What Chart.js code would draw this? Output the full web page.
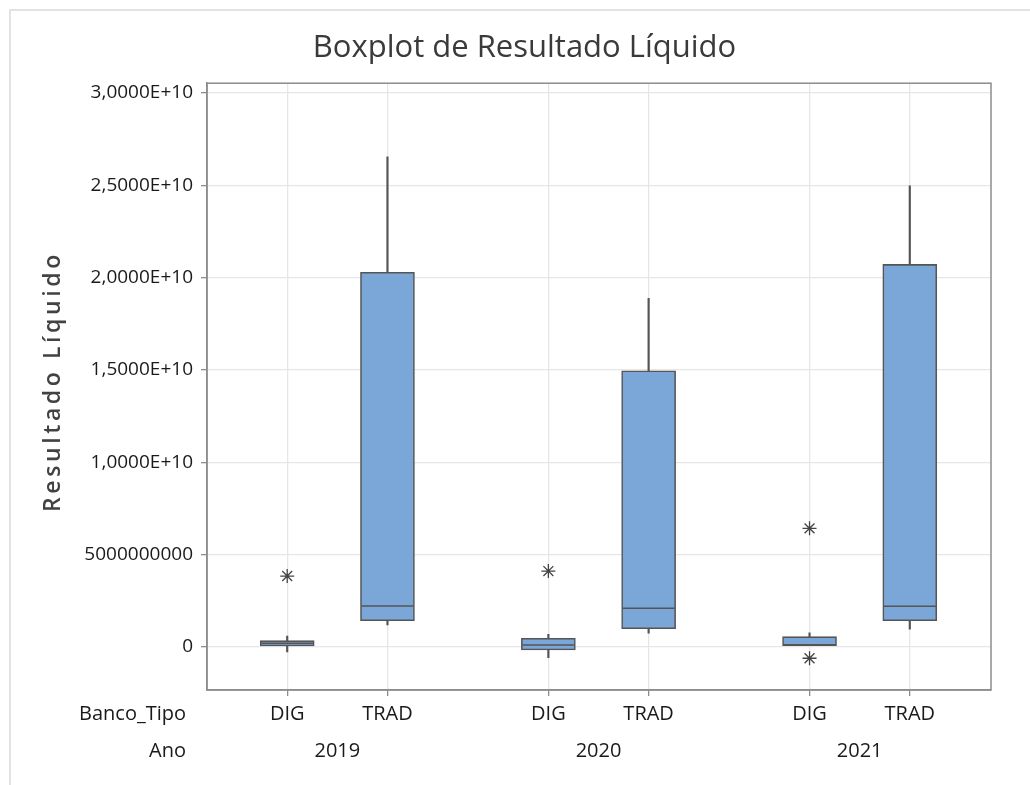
<!DOCTYPE html>
<html>
<head>
<meta charset="utf-8">
<script src="https://cdn.jsdelivr.net/npm/chart.js@4.4.1/dist/chart.umd.min.js"></script>
<style>
  html, body { margin: 0; padding: 0; background: #fff; }
  #wrap { position: relative; width: 1030px; height: 785px; overflow: hidden; }
  #frame { position: absolute; left: 9px; top: 9px; right: -5px; bottom: -5px;
           border-top: 2px solid #e2e2e2; border-left: 2px solid #e2e2e2; }
  canvas { position: absolute; left: 0; top: 0; }
</style>
</head>
<body>
<div id="wrap">
  <div id="frame"></div>
  <canvas id="chart" width="1030" height="785"></canvas>
</div>
<script>
// --- Data ---
const anos = ["2019", "2020", "2021"];
const tipos = ["DIG", "TRAD"];
const yTicks = [0, 5e9, 1e10, 1.5e10, 2e10, 2.5e10, 3e10];
const yTickLabels = ["0", "5000000000", "1,0000E+10", "1,5000E+10", "2,0000E+10", "2,5000E+10", "3,0000E+10"];

// boxes in order: DIG 2019, TRAD 2019, DIG 2020, TRAD 2020, DIG 2021, TRAD 2021
const whiskerLow  = [-2.7e8, 1.19e9, -5.8e8, 7.4e8, 7.0e7, 9.6e8];
const q1          = [5.4e7, 1.42e9, -1.6e8, 9.9e8, 7.0e7, 1.42e9];
const median      = [2.0e8, 2.22e9, 1.1e8, 2.09e9, 1.2e8, 2.2e9];
const q3          = [3.4e8, 2.028e10, 4.7e8, 1.495e10, 5.6e8, 2.071e10];
const whiskerHigh = [5.95e8, 2.653e10, 6.9e8, 1.887e10, 7.7e8, 2.496e10];
const outliers    = [[3.84e9], [], [4.11e9], [], [6.42e9, -6.1e8], []];

// --- Layout helpers ---
const GROUP_STEP = 2.605;          // distance between year groups (in category units)
const FONT = "'Open Sans', 'Noto Sans', sans-serif";
const boxColor = "#7BA6D8";
const lineColor = "#555555";

const positions = [];
anos.forEach((a, g) => tipos.forEach((t, k) => positions.push(g * GROUP_STEP + k)));
const groupMids = anos.map((a, g) => g * GROUP_STEP + 0.5);

const boxData = positions.map((x, i) => ({ x, y: [q1[i], q3[i]] }));
const upperWhisker = positions.map((x, i) => ({ x, y: [q3[i], whiskerHigh[i]] }));
const lowerWhisker = positions.map((x, i) => ({ x, y: [whiskerLow[i], q1[i]] }))
  .filter(d => d.y[0] !== d.y[1]);
const medianData = positions.map((x, i) => ({ x, y: median[i] }));
const outlierData = [];
outliers.forEach((list, i) => list.forEach(v => outlierData.push({ x: positions[i], y: v })));

// --- Extra text: y title with letter spacing, row labels, plot frame ---
const extras = {
  id: "extras",
  afterDraw(chart) {
    const { ctx, chartArea, scales } = chart;
    ctx.save();
    // plot frame
    ctx.strokeStyle = "#8c8c8c";
    ctx.lineWidth = 1.5;
    ctx.strokeRect(chartArea.left, chartArea.top, chartArea.right - chartArea.left, chartArea.bottom - chartArea.top);

    // row labels on the left of the x axes
    ctx.fillStyle = "#1a1a1a";
    ctx.font = "20px " + FONT;
    ctx.textAlign = "right";
    ctx.textBaseline = "middle";
    ctx.fillText("Banco_Tipo", 186, scales.x.top + 6 + 6 + 12);
    ctx.fillText("Ano", 186, scales.x2.top + 13 + 12);

    // y axis title
    ctx.translate(53, (chartArea.top + chartArea.bottom) / 2 - 3);
    ctx.rotate(-Math.PI / 2);
    ctx.font = "600 23px " + FONT;
    ctx.fillStyle = "#424242";
    ctx.textAlign = "center";
    ctx.letterSpacing = "3.6px";
    ctx.fillText("Resultado Líquido", 2, 0);
    ctx.restore();
  }
};

new Chart(document.getElementById("chart"), {
  type: "bar",
  data: {
    datasets: [
      {
        label: "box",
        data: boxData,
        backgroundColor: boxColor,
        borderColor: lineColor,
        borderWidth: 1.6,
        borderSkipped: false,
        barThickness: 54,
        grouped: false
      },
      {
        label: "upper whisker",
        data: upperWhisker,
        backgroundColor: lineColor,
        borderWidth: 0,
        barThickness: 1.5,
        grouped: false
      },
      {
        label: "lower whisker",
        data: lowerWhisker,
        backgroundColor: lineColor,
        borderWidth: 0,
        barThickness: 1.5,
        grouped: false
      },
      {
        type: "scatter",
        label: "median",
        data: medianData,
        pointStyle: "line",
        pointRadius: 26,
        borderColor: lineColor,
        borderWidth: 1.5,
        order: -1
      },
      {
        type: "scatter",
        label: "outliers",
        data: outlierData,
        pointStyle: "star",
        pointRadius: 7,
        borderColor: "#444",
        borderWidth: 1.3
      }
    ]
  },
  options: {
    responsive: false,
    animation: false,
    layout: { padding: { left: 58, right: 39, top: 0, bottom: 0 } },
    plugins: {
      legend: { display: false },
      tooltip: { enabled: false },
      title: {
        display: true,
        text: "Boxplot de Resultado Líquido",
        color: "#3a3a3a",
        font: { size: 31, family: FONT, weight: "normal", lineHeight: 1.2 },
        padding: { top: 30, bottom: 16 }
      }
    },
    scales: {
      x: {
        type: "linear",
        position: "bottom",
        min: -0.8,
        max: 7.02,
        offset: false,
        afterBuildTicks: s => { s.ticks = positions.map(v => ({ value: v })); },
        afterFit: s => { s.height = 36; },
        ticks: {
          autoSkip: false,
          maxRotation: 0,
          padding: 6,
          color: "#1a1a1a",
          font: { size: 20, family: FONT },
          callback: (v, i) => tipos[i % tipos.length]
        },
        grid: { color: "#e6e6e6", lineWidth: 1.3, tickLength: 6, tickColor: "#8c8c8c", offset: false },
        border: { color: "#8c8c8c", width: 1.5 }
      },
      x2: {
        type: "linear",
        position: "bottom",
        min: -0.8,
        max: 7.02,
        offset: false,
        afterBuildTicks: s => { s.ticks = groupMids.map(v => ({ value: v })); },
        afterFit: s => { s.height = 59; },
        ticks: {
          autoSkip: false,
          maxRotation: 0,
          padding: 13,
          color: "#1a1a1a",
          font: { size: 20, family: FONT },
          callback: (v, i) => anos[i]
        },
        grid: { display: false, drawTicks: false, offset: false },
        border: { display: false }
      },
      y: {
        min: -2.33e9,
        max: 3.052e10,
        afterBuildTicks: s => { s.ticks = yTicks.map(v => ({ value: v })); },
        afterFit: s => { s.width = 149; },
        ticks: {
          padding: 8,
          color: "#1a1a1a",
          font: { size: 19, family: FONT },
          callback: (v, i) => yTickLabels[i]
        },
        grid: { color: "#e6e6e6", lineWidth: 1.3, tickLength: 6, tickColor: "#8c8c8c" },
        border: { color: "#8c8c8c", width: 1.5 }
      }
    }
  },
  plugins: [extras]
});
</script>
</body>
</html>
